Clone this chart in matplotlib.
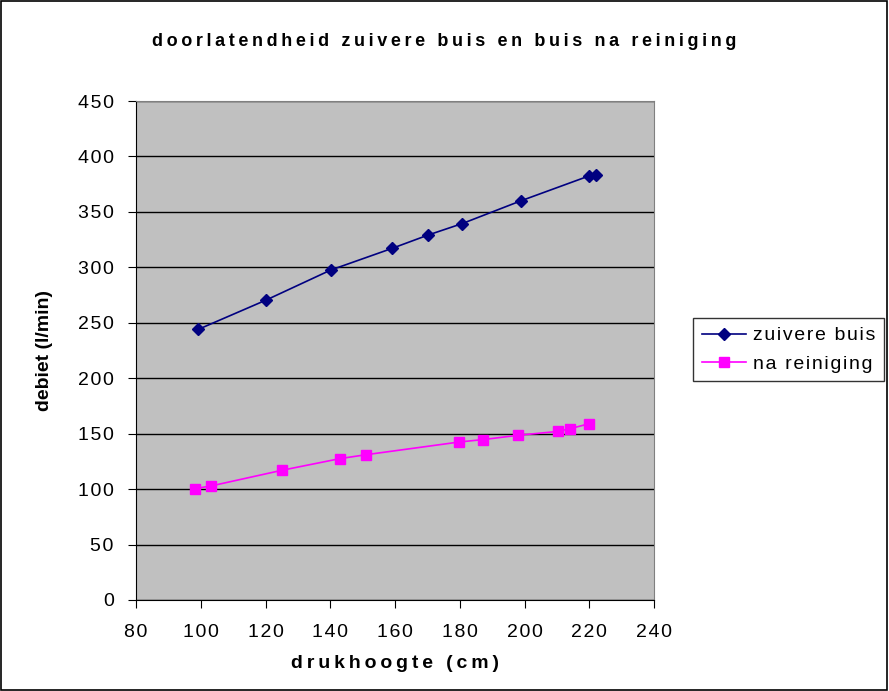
import matplotlib
matplotlib.use("Agg")
import matplotlib.pyplot as plt
from matplotlib.ticker import FuncFormatter

plt.rcParams['font.family'] = ['Liberation Sans', 'DejaVu Sans']

# zuivere buis
druk_zuiver = [99.2, 120.2, 140.1, 159.0, 170.1, 180.8, 198.9, 220.0, 222.1]
debiet_zuiver = [244, 270.5, 297.5, 317, 329, 339.5, 360, 382.5, 383.5]

# na reiniging
druk_rein = [98.2, 103.1, 125.1, 143.0, 151.0, 179.9, 187.3, 197.9, 210.2, 214.1, 220.0]
debiet_rein = [100.5, 102.8, 117, 127.5, 131, 142.5, 144.7, 148.5, 152, 154.5, 159]

titel = "doorlatendheid zuivere buis en buis na reiniging"
x_label = "drukhoogte (cm)"
y_label = "debiet (l/min)"
namen = ["zuivere buis", "na reiniging"]


def spatie(s, sep='\u200a'):
    # letters wat uit elkaar zetten zoals in excel
    return sep.join(s)


fig = plt.figure(figsize=(8.89, 6.91), dpi=100)
ax = fig.add_axes([136/889, 1-600/691, (654-136)/889, (600-101)/691])
ax.set_facecolor('#C0C0C0')

ax.plot(druk_zuiver, debiet_zuiver, color='#000080', marker='D', markersize=6,
        linewidth=1.2, label=spatie(namen[0]))
ax.plot(druk_rein, debiet_rein, color='#FF00FF', marker='s', markersize=7,
        linewidth=1.2, label=spatie(namen[1]))

ax.set_xlim(80, 240)
ax.set_ylim(0, 450)
ax.set_xticks(range(80, 241, 20))
ax.set_yticks(range(0, 451, 50))
ax.xaxis.set_major_formatter(FuncFormatter(lambda v, p: spatie(str(int(v)))))
ax.yaxis.set_major_formatter(FuncFormatter(lambda v, p: spatie(str(int(v)))))
ax.yaxis.grid(True, color='black', linewidth=1)
ax.set_axisbelow(True)
for s in ax.spines.values():
    s.set_color('#808080')
ax.spines['left'].set_color('black')
ax.spines['bottom'].set_color('black')
ax.tick_params(direction='out', length=6, labelsize=14, colors='black')
ax.tick_params(axis='x', pad=11)
ax.tick_params(axis='y', pad=10)

ax.set_xlabel(spatie(x_label, '\u2009'), fontsize=14, fontweight='bold')
ax.xaxis.set_label_coords(0.5, -0.11)
ax.set_ylabel(y_label, fontsize=14, fontweight='bold')
ax.yaxis.set_label_coords(-0.16, 0.5)
fig.text(0.5, 1-42/691, spatie(titel, '\u2009'), ha='center', va='center',
         fontsize=13, fontweight='bold')

leg = ax.legend(loc='upper left', bbox_to_anchor=(693/889, 1-318/691),
                bbox_transform=fig.transFigure, fontsize=14, frameon=True,
                fancybox=False, edgecolor='black', handlelength=2.3,
                borderaxespad=0, borderpad=0.45, labelspacing=0.55, handletextpad=0.35)
leg.get_frame().set_linewidth(1)

# rand rond de figuur
fig.patches.append(plt.Rectangle((0.001, 0.001), 0.997, 0.997, transform=fig.transFigure,
                                 fill=False, edgecolor='black', linewidth=1.2))

fig.savefig("out.png", dpi=100)
